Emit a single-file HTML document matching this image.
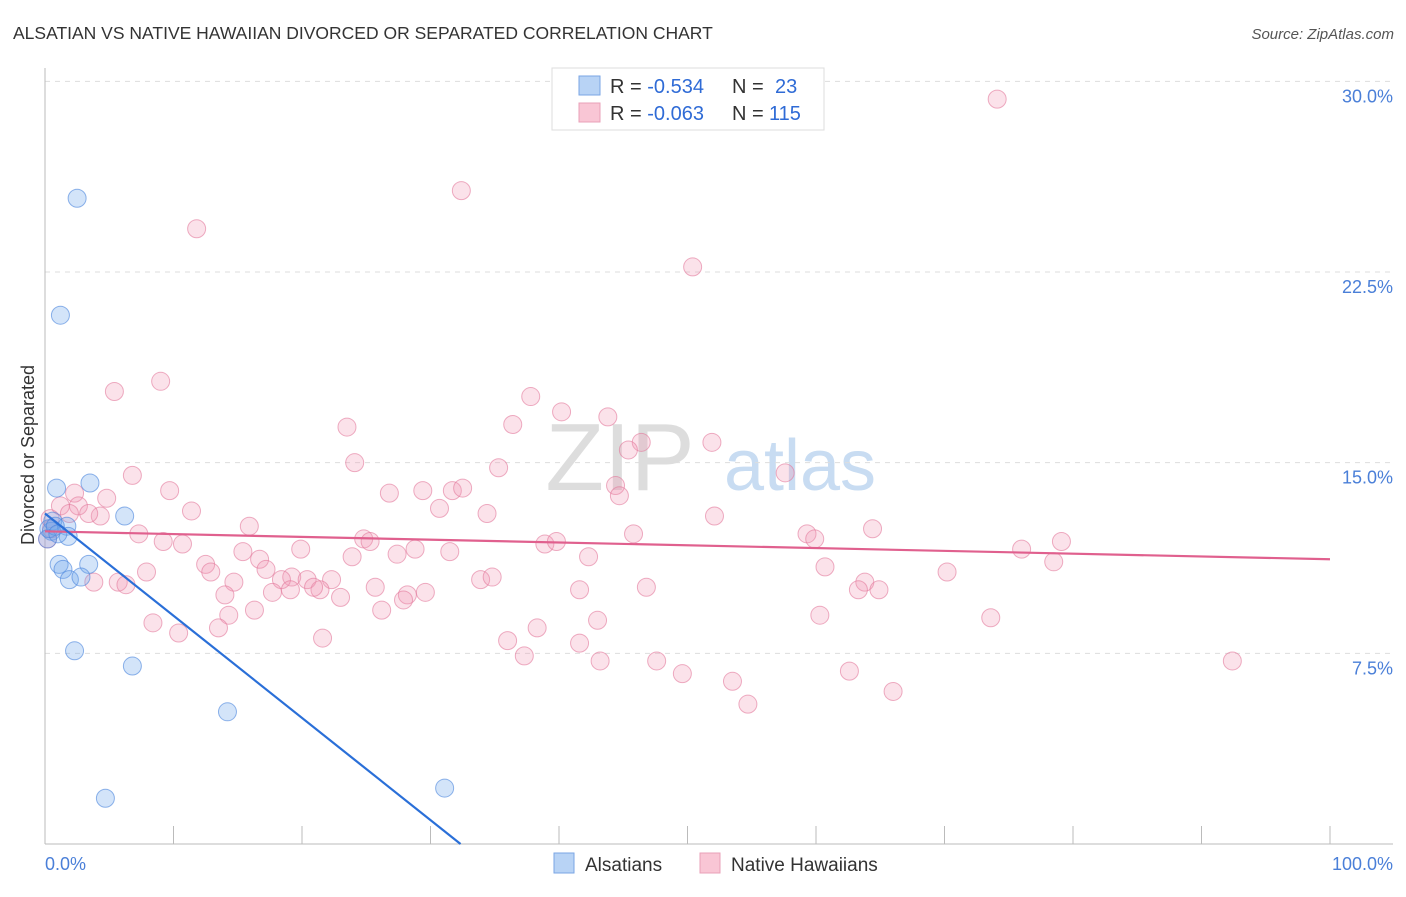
<!DOCTYPE html>
<html><head><meta charset="utf-8"><style>
body{margin:0;background:#fff;font-family:"Liberation Sans",sans-serif;}
svg text{font-family:"Liberation Sans",sans-serif;}
</style></head><body>
<svg id="chart" width="1406" height="892">
<text x="13" y="39" font-size="17.5" fill="#333">ALSATIAN VS NATIVE HAWAIIAN DIVORCED OR SEPARATED CORRELATION CHART</text>
<text x="1394" y="39" font-size="15" fill="#555" font-style="italic" text-anchor="end">Source: ZipAtlas.com</text>
<text x="620" y="490" font-size="96" fill="#ddd" font-family="Liberation Serif" text-anchor="middle">ZIP</text>
<text x="800" y="490" font-size="72" fill="#c8dcf2" text-anchor="middle">atlas</text>
<g id="grid"></g>
<g id="axes"></g>
<text transform="translate(34,455) rotate(-90)" font-size="18" fill="#333" text-anchor="middle">Divorced or Separated</text>
<text x="45" y="870" font-size="18" fill="#4a7fd8">0.0%</text>
<text x="1393" y="870" font-size="18" fill="#4a7fd8" text-anchor="end">100.0%</text>
<g id="pink"></g><g id="blue"></g><g id="lines"></g>
<g>
<rect x="552" y="68" width="272" height="62" fill="#fff" stroke="#ddd"/>
<rect x="579" y="76" width="21" height="19" fill="#b8d3f5" stroke="#7aa6e4"/>
<rect x="579" y="103" width="21" height="19" fill="#f9c6d5" stroke="#e9a0b8"/>
<text x="610" y="93" font-size="20" fill="#333">R = <tspan fill="#2f6bd6">-0.534</tspan><tspan x="732">N = </tspan><tspan x="775" fill="#2f6bd6">23</tspan></text>
<text x="610" y="120" font-size="20" fill="#333">R = <tspan fill="#2f6bd6">-0.063</tspan><tspan x="732">N = </tspan><tspan x="769" fill="#2f6bd6">115</tspan></text>
</g>
<g>
<rect x="554" y="853" width="20" height="20" fill="#b8d3f5" stroke="#7aa6e4"/>
<text x="585" y="871" font-size="19" fill="#333">Alsatians</text>
<rect x="700" y="853" width="20" height="20" fill="#f9c6d5" stroke="#e9a0b8"/>
<text x="731" y="871" font-size="19" fill="#333">Native Hawaiians</text>
</g>
</svg>
<script>
const yTicks=[7.5,15,22.5,30];
const yTickLabels=["7.5%","15.0%","22.5%","30.0%"];
const pinkX=[74.1,32.4,11.8,50.4,9.0,5.4,37.8,40.2,43.8,23.5,36.4,46.4,45.4,51.9,24.1,6.8,35.3,57.6,26.8,29.4,31.7,32.5,44.4,44.7,9.7,4.8,2.3,1.2,2.6,11.4,30.7,34.4,4.3,3.4,1.9,52.1,15.9,64.4,7.3,9.2,10.7,59.3,59.9,24.8,25.3,45.8,38.9,39.8,79.1,76.0,15.4,19.9,28.8,31.5,23.9,42.3,27.4,78.5,12.5,16.7,17.2,12.9,7.9,60.7,70.2,19.2,14.7,20.4,18.4,22.3,33.9,34.8,5.7,3.8,6.3,21.4,20.9,25.7,28.2,29.6,27.9,41.6,46.8,63.8,63.3,64.9,17.7,14.0,19.1,23.0,26.2,16.3,14.3,43.0,60.3,73.6,8.4,13.5,10.4,21.6,38.3,36.0,41.6,37.3,43.2,47.6,49.6,62.6,53.5,66.0,54.7,92.4,0.2,0.5,0.4];
const pinkY=[29.3,25.7,24.2,22.7,18.2,17.8,17.6,17.0,16.8,16.4,16.5,15.8,15.5,15.8,15.0,14.5,14.8,14.6,13.8,13.9,13.9,14.0,14.1,13.7,13.9,13.6,13.8,13.3,13.3,13.1,13.2,13.0,12.9,13.0,13.0,12.9,12.5,12.4,12.2,11.9,11.8,12.2,12.0,12.0,11.9,12.2,11.8,11.9,11.9,11.6,11.5,11.6,11.6,11.5,11.3,11.3,11.4,11.1,11.0,11.2,10.8,10.7,10.7,10.9,10.7,10.5,10.3,10.4,10.4,10.4,10.4,10.5,10.3,10.3,10.2,10.0,10.1,10.1,9.8,9.9,9.6,10.0,10.1,10.3,10.0,10.0,9.9,9.8,10.0,9.7,9.2,9.2,9.0,8.8,9.0,8.9,8.7,8.5,8.3,8.1,8.5,8.0,7.9,7.4,7.2,7.2,6.7,6.8,6.4,6.0,5.5,7.2,12.0,12.4,12.8];
const blueX=[2.5,1.2,3.5,0.9,6.2,0.6,1.7,0.5,1.8,0.2,1.1,3.4,1.4,1.9,2.8,2.3,6.8,14.2,4.7,31.1,0.3,0.8,1.0];
const blueY=[25.4,20.8,14.2,14.0,12.9,12.7,12.5,12.3,12.1,12.0,11.0,11.0,10.8,10.4,10.5,7.6,7.0,5.2,1.8,2.2,12.4,12.5,12.2];
const pinkTrend=[12.3,11.2]; // y at x=0 and x=100
const blueTrend=[13.0,-0.402]; // intercept, slope per %
const NS="http://www.w3.org/2000/svg";
const X0=45,X1=1330,Y0=844,YPER=190.67/7.5;
const sx=v=>X0+(X1-X0)*v/100, sy=v=>Y0-v*YPER;
function mk(tag,attrs,parent){const e=document.createElementNS(NS,tag);for(const k in attrs)e.setAttribute(k,attrs[k]);document.getElementById(parent).appendChild(e);return e;}
yTicks.forEach((t,i)=>{
 const l=mk('line',{x1:X0,x2:1393,y1:sy(t),y2:sy(t),stroke:'#ddd','stroke-dasharray':'5,5'},'grid');
 
 
 const tx=mk('text',{x:1393,y:sy(t)+21,'font-size':18,fill:'#4a7fd8','text-anchor':'end'},'grid');
 tx.textContent=yTickLabels[i];
 
 
});
const ya=mk('line',{x1:X0,x2:X0,y1:68,y2:Y0,stroke:'#bbb'},'axes');


const xa=mk('line',{x1:X0,x2:1393,y1:Y0,y2:Y0,stroke:'#bbb'},'axes');


for(let i=0;i<=10;i++){
 const tk=mk('line',{x1:sx(i*10),x2:sx(i*10),y1:826,y2:Y0,stroke:'#bbb'},'axes');
 
 
}
pinkX.forEach((v,i)=>{
 const c=mk('circle',{cx:sx(v),cy:sy(pinkY[i]),r:9,fill:'rgba(242,150,180,0.28)',stroke:'rgba(226,120,155,0.6)'},'pink');
 
 
});
blueX.forEach((v,i)=>{
 const c=mk('circle',{cx:sx(v),cy:sy(blueY[i]),r:9,fill:'rgba(110,165,235,0.3)',stroke:'rgba(70,130,220,0.6)'},'blue');
 
 
});
const pl=mk('line',{x1:sx(0),y1:sy(pinkTrend[0]),x2:sx(100),y2:sy(pinkTrend[1]),stroke:'#e0608e','stroke-width':2.2},'lines');


const bxEnd=-blueTrend[0]/blueTrend[1];
const bl=mk('line',{x1:sx(0),y1:sy(blueTrend[0]),x2:sx(bxEnd),y2:sy(0),stroke:'#2a6fd8','stroke-width':2.2},'lines');


</script>
</body></html>
